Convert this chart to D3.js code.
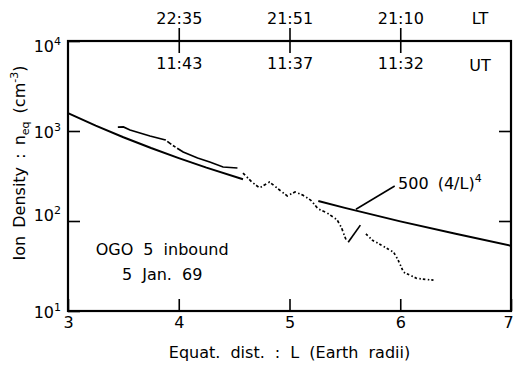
<!DOCTYPE html>
<html>
<head>
<meta charset="utf-8">
<script src="https://cdn.jsdelivr.net/npm/d3@7"></script>
<style>
body { margin: 0; background: #fff; }
text { font-family: "DejaVu Sans", sans-serif; fill: #000; }
</style>
</head>
<body>
<div class="js-chart"></div>
<script>
// axis ticks
let xTicks = [3, 4, 5, 6, 7];
let yTicks = [10, 100, 1000, 10000];
let timeL = [4, 5, 6];
let localTime = ["22:35", "21:51", "21:10"];
let universalTime = ["11:43", "11:37", "11:32"];

// model curve 500 (4/L)^4, two drawn pieces
let modelL1 = [3, 3.25, 3.5, 3.75, 4, 4.25, 4.58];
let modelN1 = [1580, 1147, 853, 647, 500, 392, 291];
let modelL2 = [5.26, 5.5, 6, 6.5, 7];
let modelN2 = [167, 140, 99, 72, 53];

let obsL1 = [3.45, 3.50, 3.56, 3.74, 3.88, 3.94, 4.04, 4.17, 4.28, 4.40, 4.53];
let obsN1 = [1107, 1110, 1026, 880, 794, 699, 584, 501, 452, 398, 388];
let obsL2 = [4.58, 4.66, 4.73, 4.82, 4.91, 4.98, 5.05, 5.12, 5.19, 5.26, 5.34, 5.43, 5.47, 5.51];
let obsN2 = [341, 271, 233, 271, 221, 190, 210, 194, 171, 136, 123, 103, 84, 62];
let jumpL = [5.53, 5.64];
let jumpN = [58, 90];
let obsL3 = [5.69, 5.75, 5.84, 5.94, 5.98, 6.03, 6.15, 6.30];
let obsN3 = [72, 61, 53, 45, 37, 27, 23, 22];

let width = 514, height = 370;
let margin = {top: 41, right: 3, bottom: 59, left: 68};

let svg = d3.select(".js-chart").append("svg")
    .attr("width", width)
    .attr("height", height);

let x = d3.scaleLinear().domain([3, 7]).range([margin.left, width - margin.right]);
let y = d3.scaleLog().domain([10, 10000]).range([height - margin.bottom, margin.top]);

let line = d3.line().x(d => x(d[0])).y(d => y(d[1]));

// bottom axis
svg.append("g")
    .attr("transform", "translate(0," + y(10) + ")")
    .call(d3.axisBottom(x).tickValues(xTicks).tickSizeInner(-12).tickSizeOuter(0).tickPadding(6).tickFormat(d3.format("d")))
    .call(g => g.select(".domain").remove())
    .call(g => g.selectAll("line").attr("stroke-width", 1.6))
    .call(g => g.selectAll("text").attr("font-size", 16).attr("font-family", null)
        .attr("dx", d => d == 7 ? -3 : 0));

// left axis
svg.append("g")
    .attr("transform", "translate(" + x(3) + ",0)")
    .call(d3.axisLeft(y).tickValues(yTicks).tickSizeInner(-12).tickSizeOuter(0).tickPadding(6).tickFormat(""))
    .call(g => g.select(".domain").remove())
    .call(g => g.selectAll("line").attr("stroke-width", 1.6));

let yLab = svg.append("g").selectAll("text")
    .data(yTicks)
    .join("text")
    .attr("x", x(3) - 7)
    .attr("y", (d, i) => y(d) + [7, 0, 7, 11][i])
    .attr("text-anchor", "end")
    .attr("font-size", 16);
yLab.append("tspan").text("10");
yLab.append("tspan").attr("font-size", 11).attr("dy", -7).text(d => Math.round(Math.log10(d)));

// right axis
svg.append("g")
    .attr("transform", "translate(" + x(7) + ",0)")
    .call(d3.axisRight(y).tickValues([100, 1000]).tickSizeInner(-12).tickSizeOuter(0).tickFormat(""))
    .call(g => g.select(".domain").remove())
    .call(g => g.selectAll("line").attr("stroke-width", 1.6));

// top axis: local time above, universal time below
svg.append("g")
    .attr("transform", "translate(0," + y(10000) + ")")
    .call(d3.axisTop(x).tickValues(timeL).tickSizeInner(13).tickSizeOuter(0).tickPadding(4).tickFormat((d, i) => localTime[i]))
    .call(g => g.select(".domain").remove())
    .call(g => g.selectAll("line").attr("stroke-width", 1.6))
    .call(g => g.selectAll("text").attr("font-size", 16).attr("font-family", null));

svg.append("g")
    .attr("transform", "translate(0," + y(10000) + ")")
    .call(d3.axisBottom(x).tickValues(timeL).tickSizeInner(12).tickSizeOuter(0).tickPadding(5).tickFormat((d, i) => universalTime[i]))
    .call(g => g.select(".domain").remove())
    .call(g => g.selectAll("line").attr("stroke-width", 1.6))
    .call(g => g.selectAll("text").attr("font-size", 16).attr("font-family", null));

svg.append("text").attr("x", x(6.72)).attr("y", y(10000) - 17)
    .attr("text-anchor", "middle").attr("font-size", 16).text("LT");
svg.append("text").attr("x", x(6.72)).attr("y", y(10000) + 30)
    .attr("text-anchor", "middle").attr("font-size", 16).text("UT");

// frame
svg.append("rect")
    .attr("x", x(3)).attr("y", y(10000))
    .attr("width", x(7) - x(3)).attr("height", y(10) - y(10000))
    .attr("fill", "none").attr("stroke", "#000").attr("stroke-width", 2.2);

// model line
svg.append("path").datum(d3.zip(modelL1, modelN1))
    .attr("d", line).attr("fill", "none").attr("stroke", "#000").attr("stroke-width", 2);
svg.append("path").datum(d3.zip(modelL2, modelN2))
    .attr("d", line).attr("fill", "none").attr("stroke", "#000").attr("stroke-width", 2);

// observations
svg.append("path").datum(d3.zip(obsL1, obsN1))
    .attr("d", line).attr("fill", "none").attr("stroke", "#000").attr("stroke-width", 1.7)
    .attr("stroke-dasharray", "50,2,5,2,3,2,90,2");
svg.append("path").datum(d3.zip(obsL2, obsN2))
    .attr("d", line).attr("fill", "none").attr("stroke", "#000").attr("stroke-width", 1.7)
    .attr("stroke-dasharray", "3,2.5,1.5,2");
svg.append("path").datum(d3.zip(jumpL, jumpN))
    .attr("d", line).attr("fill", "none").attr("stroke", "#000").attr("stroke-width", 1.7);
svg.append("path").datum(d3.zip(obsL3, obsN3))
    .attr("d", line).attr("fill", "none").attr("stroke", "#000").attr("stroke-width", 1.7)
    .attr("stroke-dasharray", "2.5,2.5,1.5,2");

// model label and leader
svg.append("line")
    .attr("x1", x(5.6)).attr("y1", y(135))
    .attr("x2", x(5.95)).attr("y2", y(245))
    .attr("stroke", "#000").attr("stroke-width", 1.6);
let mLab = svg.append("text").attr("x", x(5.98)).attr("y", y(225)).attr("font-size", 16)
    .attr("word-spacing", 4);
mLab.append("tspan").text("500 (4/L)");
mLab.append("tspan").attr("font-size", 11).attr("dy", -7).text("4");

// mission note
svg.append("text").attr("x", x(3.85)).attr("y", y(10) - 56)
    .attr("text-anchor", "middle").attr("font-size", 16).attr("word-spacing", 5).text("OGO 5 inbound");
svg.append("text").attr("x", x(3.85)).attr("y", y(10) - 31)
    .attr("text-anchor", "middle").attr("font-size", 16).attr("word-spacing", 5).text("5 Jan. 69");

// axis titles
svg.append("text").attr("x", (x(3) + x(7)) / 2).attr("y", height - 12)
    .attr("text-anchor", "middle").attr("font-size", 16).attr("word-spacing", 5)
    .text("Equat. dist. : L (Earth radii)");

let yTitle = svg.append("text")
    .attr("transform", "translate(25," + ((y(10) + y(10000)) / 2 - 13) + ") rotate(-90)")
    .attr("text-anchor", "middle").attr("font-size", 16).attr("word-spacing", 3);
yTitle.append("tspan").text("Ion Density : n");
yTitle.append("tspan").attr("font-size", 11).attr("dy", 4).text("eq");
yTitle.append("tspan").attr("dy", -4).text(" (cm");
yTitle.append("tspan").attr("font-size", 11).attr("dy", -7).text("-3");
yTitle.append("tspan").attr("dy", 7).text(")");
</script>
</body>
</html>
